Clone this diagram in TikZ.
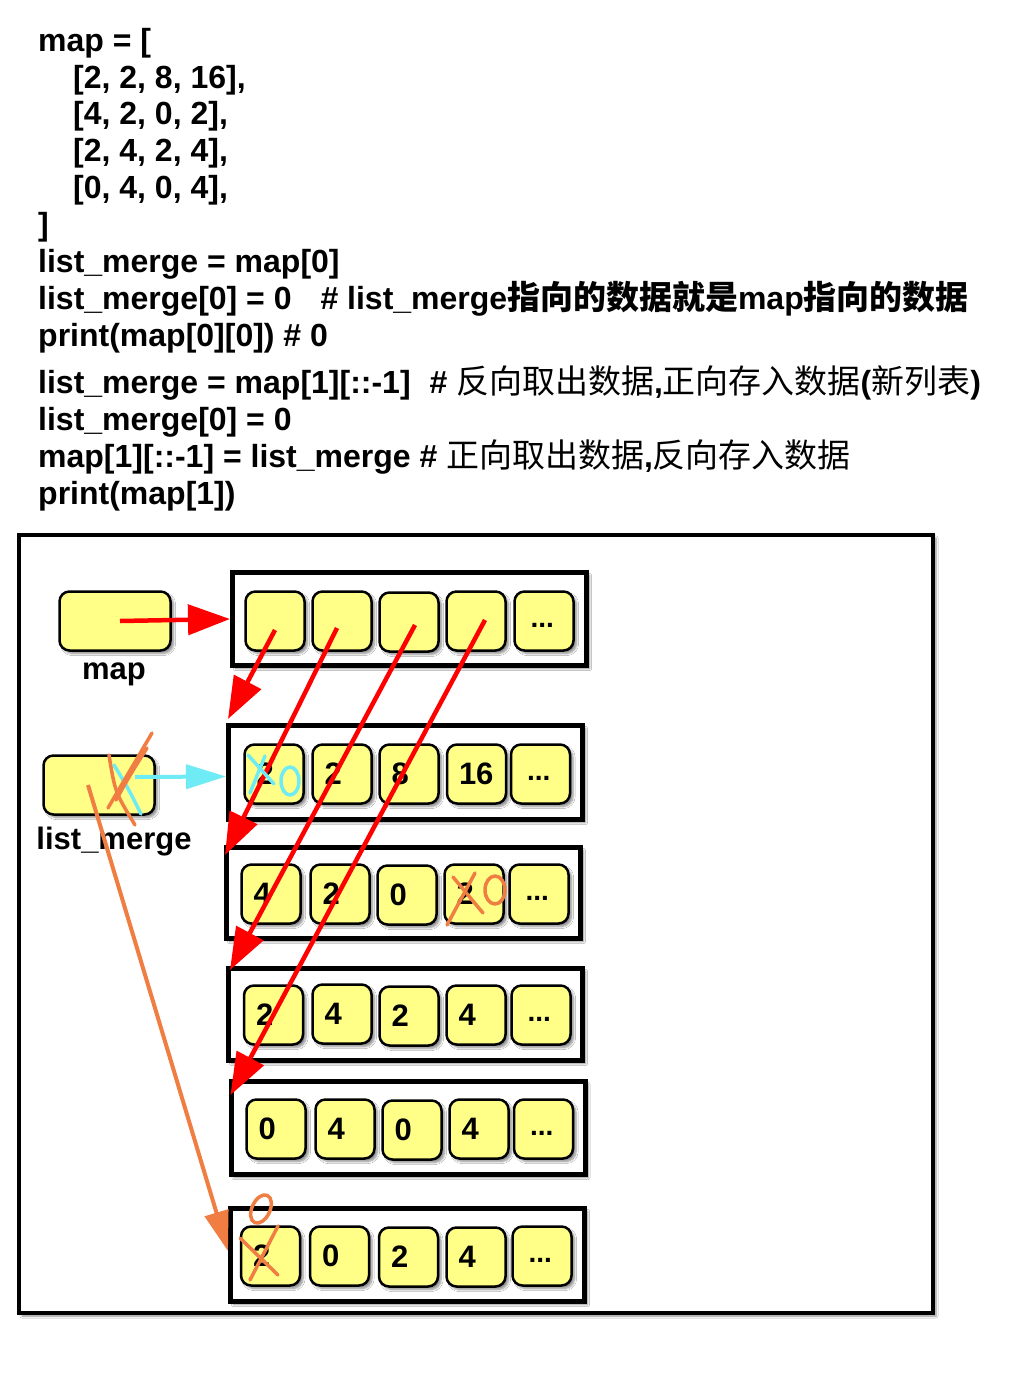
\documentclass[tikz,border=0pt]{standalone}
\usepackage{fontspec}
\setmainfont{Liberation Sans}
\newfontfamily\cjk{Noto Sans CJK SC}[Scale=1.03]
\usetikzlibrary{arrows.meta,shadows.blur}
\definecolor{cellyellow}{RGB}{255,255,136}
\definecolor{markcyan}{RGB}{110,235,245}
\definecolor{markorange}{RGB}{240,125,65}
\newcommand{\moredots}{\hspace{4pt}\raisebox{5pt}[22pt][0pt]{\fontsize{28}{30}\selectfont...}}
\begin{document}
\begin{tikzpicture}[x=1pt,y=-1pt,
    code/.style={anchor=base west,inner sep=0pt,font=\fontsize{32}{36}\selectfont\bfseries},
    soft/.style={blur shadow={shadow xshift=3pt,shadow yshift=-3pt,shadow blur steps=6,shadow opacity=45}},
    rowbox/.style={draw,line width=5pt,fill=white,minimum width=354pt,soft},
    cell/.style={draw,line width=2.5pt,rounded corners=10pt,fill=cellyellow,minimum width=59pt,minimum height=59pt,
        inner xsep=12pt,text width=35pt,font=\fontsize{31}{34}\selectfont\bfseries,soft},
    varbox/.style={draw,line width=2.5pt,rounded corners=10pt,fill=cellyellow,minimum width=111pt,minimum height=59pt,soft},
    lbl/.style={anchor=base,inner sep=0pt,font=\fontsize{31}{34}\selectfont\bfseries},
    ptr/.style={draw=red,line width=4.5pt,-{Triangle[length=42pt,width=30pt]}},
    cyanptr/.style={draw=markcyan,line width=4pt,-{Triangle[length=40pt,width=24pt]}},
    orangeptr/.style={draw=markorange,line width=4pt,-{Triangle[length=40pt,width=24pt]}},
    scribble/.style={line width=3.5pt,line cap=round,line join=round}]
\useasboundingbox (0,0) rectangle (1013,1373);
\fill[white] (0,0) rectangle (1013,1373);

% code listing
\node[code] (l1) at (38,51) {map = [};
\node[code] (l2) at (73,88) {[2, 2, 8, 16],};
\node[code] (l3) at (73,124) {[4, 2, 0, 2],};
\node[code] (l4) at (73,161) {[2, 4, 2, 4],};
\node[code] (l5) at (73,198) {[0, 4, 0, 4],};
\node[code] (l6) at (38,235) {]};
\node[code] (l7) at (38,272) {list\_merge = map[0]};
\node[code] (l8) at (38,309) {list\_merge[0] = 0\hspace{20pt} \# list\_merge{\cjk 指向的数据就是}map{\cjk 指向的数据}};
\node[code] (l9) at (38,346) {print(map[0][0]) \# 0};
\node[code] (l10) at (38,393) {list\_merge = map[1][::-1]\hspace{10pt} \# {\cjk\mdseries 反向取出数据},{\cjk\mdseries 正向存入数据}({\cjk\mdseries 新列表})};
\node[code] (l11) at (38,430) {list\_merge[0] = 0};
\node[code] (l12) at (38,467) {map[1][::-1] = list\_merge \# {\cjk\mdseries 正向取出数据},{\cjk\mdseries 反向存入数据}};
\node[code] (l13) at (38,504) {print(map[1])};

% outer frame
\draw[line width=4pt,fill=white,soft] (19,535) rectangle (933,1313);

% variables
\node[varbox] (mapbox) at (115,621) {};
\node[lbl] (maplbl) at (114,679) {map};
\node[varbox] (lmbox) at (99,785) {};
\node[lbl] (lmlbl) at (114,849) {list\_merge};

% row containers
\node[rowbox,minimum height=93pt] (row0) at (409.5,619) {};
\node[rowbox,minimum height=94pt] (row1) at (405.5,772.5) {};
\node[rowbox,minimum height=91pt] (row2) at (403.5,893) {};
\node[rowbox,minimum height=92pt] (row3) at (405.5,1014.5) {};
\node[rowbox,minimum height=93pt] (row4) at (408,1128) {};
\node[rowbox,minimum height=93pt] (row5) at (407.5,1255) {};

% cells
\node[cell] (r0c0) at (275,621) {};
\node[cell] (r0c1) at (342,621) {};
\node[cell] (r0c2) at (409,622) {};
\node[cell] (r0c3) at (476,621) {};
\node[cell] (r0c4) at (544,621) {\moredots};

\node[cell] (r1c0) at (274,774) {2};
\node[cell] (r1c1) at (342,774) {2};
\node[cell] (r1c2) at (409,774) {8};
\node[cell] (r1c3) at (476.5,774) {16};
\node[cell] (r1c4) at (540.5,774) {\moredots};

\node[cell] (r2c0) at (271,894) {4};
\node[cell] (r2c1) at (340,894) {2};
\node[cell] (r2c2) at (407,895) {0};
\node[cell] (r2c3) at (474,894) {2};
\node[cell] (r2c4) at (539,894) {\moredots};

\node[cell] (r3c0) at (273.5,1015) {2};
\node[cell] (r3c1) at (342,1014) {4};
\node[cell] (r3c2) at (409,1016) {2};
\node[cell] (r3c3) at (476,1015) {4};
\node[cell] (r3c4) at (541,1015) {\moredots};

\node[cell] (r4c0) at (276,1129) {0};
\node[cell] (r4c1) at (345,1129) {4};
\node[cell] (r4c2) at (412,1130) {0};
\node[cell] (r4c3) at (479,1129) {4};
\node[cell] (r4c4) at (543.5,1129) {\moredots};

\node[cell] (r5c0) at (270.5,1256) {2};
\node[cell] (r5c1) at (339.5,1256) {0};
\node[cell] (r5c2) at (408.5,1257) {2};
\node[cell] (r5c3) at (476,1257) {4};
\node[cell] (r5c4) at (542,1256) {\moredots};

% references
\draw[ptr] ([xshift=5pt]mapbox.center) -- (row0.west);
\draw[ptr] ([yshift=-9pt]r0c0.center) -- ([xshift=2pt,yshift=4pt]row1.north west);
\draw[ptr] ([xshift=-5pt,yshift=-7pt]r0c1.center) -- ([xshift=1pt,yshift=-10pt]row2.north west);
\draw[ptr] ([xshift=6pt,yshift=-3pt]r0c2.center) -- ([xshift=4pt,yshift=-4pt]row3.north west);
\draw[ptr] ([xshift=9pt,yshift=1pt]r0c3.center) -- ([xshift=2pt,yshift=-16pt]row4.north west);

\draw[cyanptr] ([xshift=36pt,yshift=8pt]lmbox.center) -- ([yshift=-4pt]row1.west);
\draw[orangeptr] ([xshift=-11pt]lmbox.center) -- ([yshift=4pt]row5.west);

% hand-drawn marks
\draw[scribble,markcyan] (114,765) .. controls (128,788) .. (141,814);
\draw[scribble,markcyan] (248,755) -- (274,784);
\draw[scribble,markcyan] (265,756) -- (250,793);
\draw[scribble,markcyan] (290,781) ellipse [x radius=9, y radius=14];
\draw[scribble,markorange] (152,733) .. controls (135,762) .. (108,808);
\draw[scribble,markorange] (109,755) .. controls (115,792) .. (135,825);
\draw[scribble,markorange] (147,748) .. controls (130,775) .. (116,800);
\draw[scribble,markorange] (447,925) -- (475,873);
\draw[scribble,markorange] (453,877) -- (483,913);
\draw[scribble,markorange] (495,890) ellipse [x radius=10, y radius=14];
\draw[scribble,markorange] (261,1209) ellipse [x radius=9, y radius=15, rotate=-25];
\draw[scribble,markorange] (250,1280) -- (278,1226);
\draw[scribble,markorange] (240,1238) -- (278,1275);
\end{tikzpicture}
\end{document}
